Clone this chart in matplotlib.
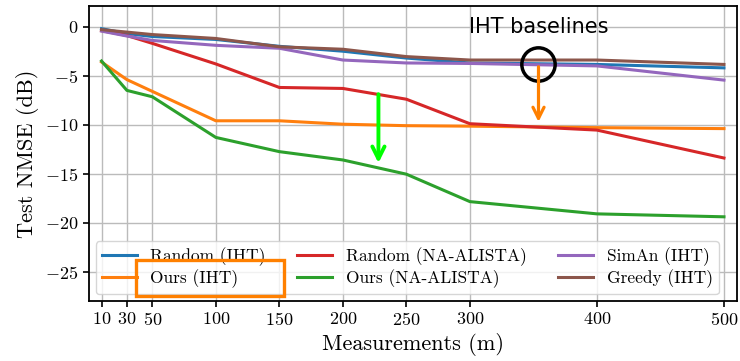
import matplotlib
matplotlib.use('Agg')
import matplotlib.pyplot as plt
from matplotlib.patches import Rectangle

# Data
m = [10, 30, 50, 100, 150, 200, 250, 300, 400, 500]
random_iht = [-0.2, -0.7, -1.0, -1.3, -2.0, -2.5, -3.2, -3.7, -3.85, -4.2]
ours_iht = [-3.6, -5.4, -6.6, -9.6, -9.6, -9.95, -10.1, -10.15, -10.3, -10.4]
random_na = [-0.4, -0.9, -1.7, -3.8, -6.2, -6.3, -7.4, -9.9, -10.55, -13.4]
ours_na = [-3.5, -6.5, -7.15, -11.3, -12.75, -13.6, -15.05, -17.85, -19.1, -19.4]
siman_iht = [-0.45, -0.95, -1.4, -1.9, -2.2, -3.4, -3.7, -3.75, -4.0, -5.45]
greedy_iht = [-0.3, -0.55, -0.8, -1.2, -2.05, -2.3, -3.05, -3.4, -3.4, -3.85]

xticks = [10, 30, 50, 100, 150, 200, 250, 300, 400, 500]
yticks = [0, -5, -10, -15, -20, -25]

plt.rcParams['font.family'] = ['cmr10', 'DejaVu Serif']
plt.rcParams['mathtext.fontset'] = 'cm'
plt.rcParams['axes.formatter.use_mathtext'] = True
plt.rcParams['axes.unicode_minus'] = True

fig, ax = plt.subplots(figsize=(7.4, 3.61), dpi=100)
fig.subplots_adjust(left=0.12, right=0.9955, top=0.983, bottom=0.166)

lw = 2.2
ax.plot(m, random_iht, color='tab:blue', lw=lw, label='Random (IHT)')
ax.plot(m, ours_iht, color='tab:orange', lw=lw, label='Ours (IHT)')
ax.plot(m, random_na, color='tab:red', lw=lw, label='Random (NA-ALISTA)')
ax.plot(m, ours_na, color='tab:green', lw=lw, label='Ours (NA-ALISTA)')
ax.plot(m, siman_iht, color='tab:purple', lw=lw, label='SimAn (IHT)')
ax.plot(m, greedy_iht, color='tab:brown', lw=lw, label='Greedy (IHT)')

# annotations
ax.annotate('', xy=(228, -14.2), xytext=(228, -6.6),
            arrowprops=dict(arrowstyle='->', color='lime', lw=2.8, mutation_scale=22))
ax.annotate('', xy=(354, -10.0), xytext=(354, -3.8),
            arrowprops=dict(arrowstyle='->', color='#ff8000', lw=2.3, mutation_scale=20))
ax.plot([354], [-3.76], 'o', ms=24, mfc='none', mec='black', mew=2.5)
ax.text(354, 0.0, 'IHT baselines', family='DejaVu Sans', fontsize=15,
        ha='center', va='center')

ax.set_xlim(0, 510)
ax.set_ylim(-28, 2.1)
ax.set_xticks(xticks)
ax.set_yticks(yticks)
ax.tick_params(labelsize=13, length=4, width=1.2)
ax.grid(True, color='#bbbbbb', lw=1.0)
for s in ax.spines.values():
    s.set_linewidth(1.3)

ax.set_xlabel('Measurements (m)', fontsize=16, labelpad=3)
ax.set_ylabel('Test NMSE (dB)', fontsize=16)

ax.legend(ncol=3, loc='lower left', fontsize=12.5, handlelength=2.0,
          columnspacing=1.8, borderaxespad=0.4, labelspacing=0.2, borderpad=0.35)

# highlight box around "Ours (IHT)" legend entry
fig.patches.append(Rectangle((0.184, 0.18), 0.2, 0.099, transform=fig.transFigure,
                             fill=False, edgecolor='#ff8000', lw=2.4, zorder=10))

fig.savefig('out.png', dpi=100)
